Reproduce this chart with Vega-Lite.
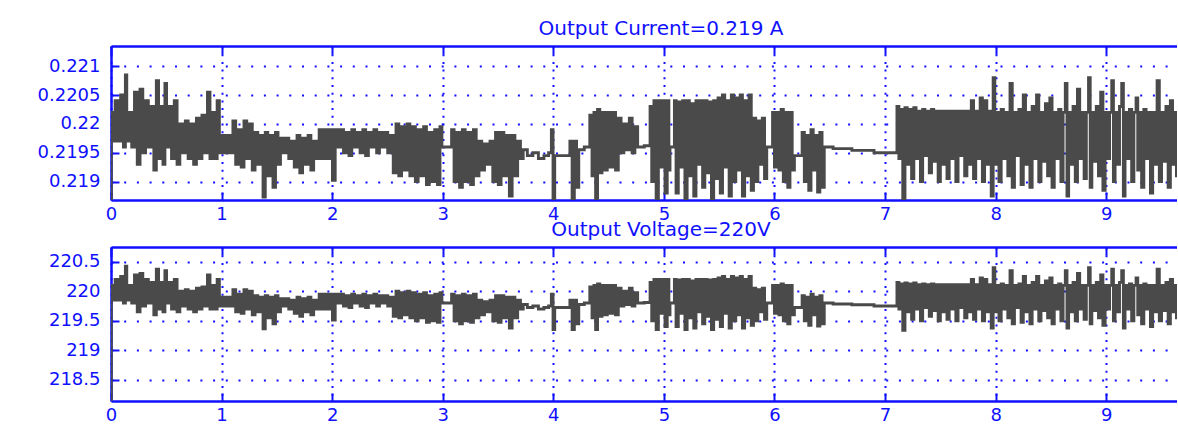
{
"$schema": "https://vega.github.io/schema/vega-lite/v6.json",
"background": "white",
"padding": {"left": 31, "top": 19, "right": 0, "bottom": 0},
"spacing": -3,
"config": {
  "font": "DejaVu Sans",
  "view": {"stroke": null},
  "axis": {"domainColor": "#1010ff", "domainWidth": 2.5, "tickColor": "#1010ff", "tickWidth": 2, "tickSize": -8, "gridColor": "#1010ff", "gridWidth": 2, "gridOpacity": 1, "labelColor": "#1010ff", "labelFont": "DejaVu Sans", "labelFontSize": 18, "labelFlush": false, "labelOverlap": false, "title": null},
  "axisX": {"gridDash": [2, 5.7], "labelPadding": 13, "minExtent": 21, "maxExtent": 21},
  "axisY": {"gridDash": [2, 10.7], "labelPadding": 19, "minExtent": 80, "maxExtent": 80},
  "title": {"font": "DejaVu Sans", "fontSize": 20, "fontWeight": "normal", "color": "#1010ff", "offset": 6, "dx": 17}
},
"datasets": {"s": [
{"t":0,"c":0.21868,"v":218.14},
{"t":0.005,"c":0.2202,"v":220.1},
{"t":0.025,"c":0.2197,"v":219.85},
{"t":0.05,"c":0.2204,"v":220.2},
{"t":0.075,"c":0.2197,"v":219.85},
{"t":0.1,"c":0.2205,"v":220.25},
{"t":0.125,"c":0.2196,"v":219.8},
{"t":0.135,"c":0.22085,"v":220.425},
{"t":0.15,"c":0.2197,"v":219.85},
{"t":0.175,"c":0.2202,"v":220.1},
{"t":0.2,"c":0.2196,"v":219.8},
{"t":0.225,"c":0.22055,"v":220.275},
{"t":0.25,"c":0.2193,"v":219.65},
{"t":0.275,"c":0.2206,"v":220.3},
{"t":0.3,"c":0.2195,"v":219.75},
{"t":0.325,"c":0.2204,"v":220.2},
{"t":0.35,"c":0.2196,"v":219.8},
{"t":0.375,"c":0.2203,"v":220.15},
{"t":0.4,"c":0.2192,"v":219.6},
{"t":0.42,"c":0.22075,"v":220.375},
{"t":0.44,"c":0.2194,"v":219.7},
{"t":0.46,"c":0.2203,"v":220.15},
{"t":0.48,"c":0.2193,"v":219.65},
{"t":0.495,"c":0.2207,"v":220.35},
{"t":0.51,"c":0.2196,"v":219.8},
{"t":0.535,"c":0.2203,"v":220.15},
{"t":0.56,"c":0.2194,"v":219.7},
{"t":0.585,"c":0.2204,"v":220.2},
{"t":0.61,"c":0.2193,"v":219.65},
{"t":0.635,"c":0.22,"v":220},
{"t":0.66,"c":0.2195,"v":219.75},
{"t":0.685,"c":0.22005,"v":220.025},
{"t":0.71,"c":0.2194,"v":219.7},
{"t":0.735,"c":0.22,"v":220},
{"t":0.76,"c":0.2193,"v":219.65},
{"t":0.785,"c":0.2201,"v":220.05},
{"t":0.81,"c":0.2194,"v":219.7},
{"t":0.835,"c":0.22015,"v":220.075},
{"t":0.86,"c":0.2195,"v":219.75},
{"t":0.885,"c":0.22055,"v":220.275},
{"t":0.905,"c":0.2194,"v":219.7},
{"t":0.93,"c":0.2202,"v":220.1},
{"t":0.95,"c":0.2194,"v":219.7},
{"t":0.97,"c":0.2204,"v":220.2},
{"t":0.99,"c":0.2195,"v":219.75},
{"t":1.015,"c":0.2198,"v":219.9},
{"t":1.04,"c":0.2195,"v":219.75},
{"t":1.065,"c":0.2198,"v":219.9},
{"t":1.09,"c":0.2195,"v":219.75},
{"t":1.115,"c":0.22005,"v":220.025},
{"t":1.14,"c":0.2193,"v":219.65},
{"t":1.165,"c":0.2199,"v":219.95},
{"t":1.19,"c":0.21925,"v":219.625},
{"t":1.215,"c":0.22005,"v":220.025},
{"t":1.24,"c":0.2194,"v":219.7},
{"t":1.265,"c":0.22,"v":220},
{"t":1.29,"c":0.2192,"v":219.6},
{"t":1.315,"c":0.21985,"v":219.925},
{"t":1.34,"c":0.2193,"v":219.65},
{"t":1.365,"c":0.2198,"v":219.9},
{"t":1.385,"c":0.21873,"v":219.365},
{"t":1.405,"c":0.21985,"v":219.925},
{"t":1.43,"c":0.2191,"v":219.55},
{"t":1.455,"c":0.2198,"v":219.9},
{"t":1.475,"c":0.2189,"v":219.45},
{"t":1.5,"c":0.21985,"v":219.925},
{"t":1.52,"c":0.2193,"v":219.65},
{"t":1.545,"c":0.21975,"v":219.875},
{"t":1.57,"c":0.2195,"v":219.75},
{"t":1.595,"c":0.21975,"v":219.875},
{"t":1.62,"c":0.2194,"v":219.7},
{"t":1.645,"c":0.2197,"v":219.85},
{"t":1.67,"c":0.21925,"v":219.625},
{"t":1.695,"c":0.2198,"v":219.9},
{"t":1.72,"c":0.21915,"v":219.575},
{"t":1.745,"c":0.21975,"v":219.875},
{"t":1.77,"c":0.2193,"v":219.65},
{"t":1.795,"c":0.2198,"v":219.9},
{"t":1.82,"c":0.2192,"v":219.6},
{"t":1.845,"c":0.2197,"v":219.85},
{"t":1.87,"c":0.2194,"v":219.7},
{"t":1.895,"c":0.2199,"v":219.95},
{"t":1.92,"c":0.2194,"v":219.7},
{"t":1.945,"c":0.2199,"v":219.95},
{"t":1.97,"c":0.2194,"v":219.7},
{"t":1.99,"c":0.2199,"v":219.95},
{"t":2.015,"c":0.21902,"v":219.51},
{"t":2.04,"c":0.2199,"v":219.95},
{"t":2.065,"c":0.2196,"v":219.8},
{"t":2.09,"c":0.2199,"v":219.95},
{"t":2.115,"c":0.2195,"v":219.75},
{"t":2.14,"c":0.21985,"v":219.925},
{"t":2.165,"c":0.21945,"v":219.725},
{"t":2.19,"c":0.2199,"v":219.95},
{"t":2.215,"c":0.2196,"v":219.8},
{"t":2.24,"c":0.21985,"v":219.925},
{"t":2.265,"c":0.2195,"v":219.75},
{"t":2.29,"c":0.2199,"v":219.95},
{"t":2.315,"c":0.21945,"v":219.725},
{"t":2.34,"c":0.21985,"v":219.925},
{"t":2.365,"c":0.2196,"v":219.8},
{"t":2.39,"c":0.2199,"v":219.95},
{"t":2.415,"c":0.2195,"v":219.75},
{"t":2.44,"c":0.21985,"v":219.925},
{"t":2.465,"c":0.2196,"v":219.8},
{"t":2.49,"c":0.21985,"v":219.925},
{"t":2.515,"c":0.2195,"v":219.75},
{"t":2.54,"c":0.2198,"v":219.9},
{"t":2.565,"c":0.21915,"v":219.575},
{"t":2.59,"c":0.22,"v":220},
{"t":2.615,"c":0.2191,"v":219.55},
{"t":2.64,"c":0.21995,"v":219.975},
{"t":2.665,"c":0.2192,"v":219.6},
{"t":2.69,"c":0.22,"v":220},
{"t":2.715,"c":0.2191,"v":219.55},
{"t":2.74,"c":0.21995,"v":219.975},
{"t":2.765,"c":0.219,"v":219.5},
{"t":2.79,"c":0.2199,"v":219.95},
{"t":2.815,"c":0.2191,"v":219.55},
{"t":2.84,"c":0.21995,"v":219.975},
{"t":2.865,"c":0.21895,"v":219.475},
{"t":2.89,"c":0.21985,"v":219.925},
{"t":2.915,"c":0.219,"v":219.5},
{"t":2.94,"c":0.2199,"v":219.95},
{"t":2.965,"c":0.21895,"v":219.475},
{"t":2.985,"c":0.21995,"v":219.975},
{"t":3.0,"c":0.2196,"v":219.8},
{"t":3.07,"c":0.2196,"v":219.8},
{"t":3.09,"c":0.2199,"v":219.95},
{"t":3.115,"c":0.219,"v":219.5},
{"t":3.14,"c":0.21985,"v":219.925},
{"t":3.165,"c":0.2189,"v":219.45},
{"t":3.19,"c":0.2199,"v":219.95},
{"t":3.215,"c":0.219,"v":219.5},
{"t":3.24,"c":0.21985,"v":219.925},
{"t":3.265,"c":0.21895,"v":219.475},
{"t":3.29,"c":0.2199,"v":219.95},
{"t":3.315,"c":0.2191,"v":219.55},
{"t":3.34,"c":0.2197,"v":219.85},
{"t":3.365,"c":0.2192,"v":219.6},
{"t":3.39,"c":0.21965,"v":219.825},
{"t":3.415,"c":0.2193,"v":219.65},
{"t":3.44,"c":0.2197,"v":219.85},
{"t":3.465,"c":0.219,"v":219.5},
{"t":3.49,"c":0.21985,"v":219.925},
{"t":3.515,"c":0.21895,"v":219.475},
{"t":3.54,"c":0.21985,"v":219.925},
{"t":3.565,"c":0.2191,"v":219.55},
{"t":3.59,"c":0.2198,"v":219.9},
{"t":3.615,"c":0.21875,"v":219.375},
{"t":3.64,"c":0.2198,"v":219.9},
{"t":3.665,"c":0.2191,"v":219.55},
{"t":3.69,"c":0.2197,"v":219.85},
{"t":3.715,"c":0.2194,"v":219.7},
{"t":3.74,"c":0.21955,"v":219.775},
{"t":3.79,"c":0.21945,"v":219.725},
{"t":3.84,"c":0.2195,"v":219.75},
{"t":3.89,"c":0.2194,"v":219.7},
{"t":3.94,"c":0.21945,"v":219.725},
{"t":3.975,"c":0.2195,"v":219.75},
{"t":3.99,"c":0.2199,"v":219.95},
{"t":4.005,"c":0.2187,"v":219.35},
{"t":4.02,"c":0.21945,"v":219.725},
{"t":4.14,"c":0.21945,"v":219.725},
{"t":4.16,"c":0.2197,"v":219.85},
{"t":4.18,"c":0.2187,"v":219.35},
{"t":4.2,"c":0.2197,"v":219.85},
{"t":4.22,"c":0.2189,"v":219.45},
{"t":4.24,"c":0.21955,"v":219.775},
{"t":4.32,"c":0.2196,"v":219.8},
{"t":4.34,"c":0.22015,"v":220.075},
{"t":4.36,"c":0.2191,"v":219.55},
{"t":4.375,"c":0.2202,"v":220.1},
{"t":4.39,"c":0.2187,"v":219.35},
{"t":4.41,"c":0.22025,"v":220.125},
{"t":4.43,"c":0.21915,"v":219.575},
{"t":4.45,"c":0.2202,"v":220.1},
{"t":4.475,"c":0.2192,"v":219.6},
{"t":4.5,"c":0.2202,"v":220.1},
{"t":4.525,"c":0.21925,"v":219.625},
{"t":4.55,"c":0.2202,"v":220.1},
{"t":4.575,"c":0.2192,"v":219.6},
{"t":4.6,"c":0.2201,"v":220.05},
{"t":4.625,"c":0.2195,"v":219.75},
{"t":4.65,"c":0.22,"v":220},
{"t":4.675,"c":0.21955,"v":219.775},
{"t":4.7,"c":0.2201,"v":220.05},
{"t":4.725,"c":0.2195,"v":219.75},
{"t":4.75,"c":0.21995,"v":219.975},
{"t":4.775,"c":0.2196,"v":219.8},
{"t":4.87,"c":0.21962,"v":219.81},
{"t":4.88,"c":0.2203,"v":220.15},
{"t":4.9,"c":0.219,"v":219.5},
{"t":4.92,"c":0.2204,"v":220.2},
{"t":4.94,"c":0.2187,"v":219.35},
{"t":4.96,"c":0.2204,"v":220.2},
{"t":4.98,"c":0.21925,"v":219.625},
{"t":5.0,"c":0.2204,"v":220.2},
{"t":5.02,"c":0.2188,"v":219.4},
{"t":5.04,"c":0.2204,"v":220.2},
{"t":5.05,"c":0.2192,"v":219.6},
{"t":5.06,"c":0.2196,"v":219.8},
{"t":5.09,"c":0.2196,"v":219.8},
{"t":5.1,"c":0.2204,"v":220.2},
{"t":5.12,"c":0.2188,"v":219.4},
{"t":5.14,"c":0.22038,"v":220.19},
{"t":5.16,"c":0.21925,"v":219.625},
{"t":5.18,"c":0.2204,"v":220.2},
{"t":5.2,"c":0.2187,"v":219.35},
{"t":5.22,"c":0.2204,"v":220.2},
{"t":5.24,"c":0.2191,"v":219.55},
{"t":5.26,"c":0.22035,"v":220.175},
{"t":5.28,"c":0.21875,"v":219.375},
{"t":5.3,"c":0.2204,"v":220.2},
{"t":5.32,"c":0.2193,"v":219.65},
{"t":5.34,"c":0.2204,"v":220.2},
{"t":5.36,"c":0.2189,"v":219.45},
{"t":5.38,"c":0.2204,"v":220.2},
{"t":5.4,"c":0.21915,"v":219.575},
{"t":5.42,"c":0.22038,"v":220.19},
{"t":5.44,"c":0.2187,"v":219.35},
{"t":5.46,"c":0.2204,"v":220.2},
{"t":5.48,"c":0.21905,"v":219.525},
{"t":5.5,"c":0.22045,"v":220.225},
{"t":5.52,"c":0.2188,"v":219.4},
{"t":5.54,"c":0.2205,"v":220.25},
{"t":5.56,"c":0.21925,"v":219.625},
{"t":5.58,"c":0.2204,"v":220.2},
{"t":5.6,"c":0.21875,"v":219.375},
{"t":5.62,"c":0.2205,"v":220.25},
{"t":5.64,"c":0.219,"v":219.5},
{"t":5.66,"c":0.22045,"v":220.225},
{"t":5.68,"c":0.2192,"v":219.6},
{"t":5.7,"c":0.2205,"v":220.25},
{"t":5.72,"c":0.21875,"v":219.375},
{"t":5.74,"c":0.2204,"v":220.2},
{"t":5.76,"c":0.2191,"v":219.55},
{"t":5.78,"c":0.2205,"v":220.25},
{"t":5.8,"c":0.21885,"v":219.425},
{"t":5.82,"c":0.2201,"v":220.05},
{"t":5.84,"c":0.219,"v":219.5},
{"t":5.86,"c":0.22005,"v":220.025},
{"t":5.88,"c":0.2193,"v":219.65},
{"t":5.9,"c":0.2201,"v":220.05},
{"t":5.92,"c":0.21905,"v":219.525},
{"t":5.94,"c":0.2196,"v":219.8},
{"t":5.975,"c":0.2196,"v":219.8},
{"t":5.99,"c":0.2202,"v":220.1},
{"t":6.01,"c":0.21925,"v":219.625},
{"t":6.03,"c":0.2202,"v":220.1},
{"t":6.05,"c":0.2192,"v":219.6},
{"t":6.07,"c":0.22025,"v":220.125},
{"t":6.09,"c":0.219,"v":219.5},
{"t":6.11,"c":0.2202,"v":220.1},
{"t":6.13,"c":0.2189,"v":219.45},
{"t":6.15,"c":0.2202,"v":220.1},
{"t":6.17,"c":0.2192,"v":219.6},
{"t":6.19,"c":0.21945,"v":219.725},
{"t":6.24,"c":0.21945,"v":219.725},
{"t":6.26,"c":0.21985,"v":219.925},
{"t":6.28,"c":0.219,"v":219.5},
{"t":6.3,"c":0.2198,"v":219.9},
{"t":6.32,"c":0.21885,"v":219.425},
{"t":6.34,"c":0.2199,"v":219.95},
{"t":6.36,"c":0.2192,"v":219.6},
{"t":6.38,"c":0.2198,"v":219.9},
{"t":6.4,"c":0.21882,"v":219.41},
{"t":6.42,"c":0.21985,"v":219.925},
{"t":6.44,"c":0.2189,"v":219.45},
{"t":6.46,"c":0.2196,"v":219.8},
{"t":6.6,"c":0.21957,"v":219.785},
{"t":6.8,"c":0.21954,"v":219.77},
{"t":7.0,"c":0.2195,"v":219.75},
{"t":7.1,"c":0.2195,"v":219.75},
{"t":7.115,"c":0.2203,"v":220.15},
{"t":7.135,"c":0.2194,"v":219.7},
{"t":7.15,"c":0.22025,"v":220.125},
{"t":7.17,"c":0.21868,"v":219.34},
{"t":7.19,"c":0.22028,"v":220.14},
{"t":7.21,"c":0.2193,"v":219.65},
{"t":7.23,"c":0.22025,"v":220.125},
{"t":7.25,"c":0.21905,"v":219.525},
{"t":7.27,"c":0.22028,"v":220.14},
{"t":7.29,"c":0.2194,"v":219.7},
{"t":7.31,"c":0.22022,"v":220.11},
{"t":7.33,"c":0.219,"v":219.5},
{"t":7.35,"c":0.22025,"v":220.125},
{"t":7.37,"c":0.21945,"v":219.725},
{"t":7.39,"c":0.22022,"v":220.11},
{"t":7.41,"c":0.21915,"v":219.575},
{"t":7.43,"c":0.22025,"v":220.125},
{"t":7.45,"c":0.21935,"v":219.675},
{"t":7.47,"c":0.22022,"v":220.11},
{"t":7.49,"c":0.219,"v":219.5},
{"t":7.51,"c":0.22022,"v":220.11},
{"t":7.53,"c":0.2193,"v":219.65},
{"t":7.55,"c":0.22022,"v":220.11},
{"t":7.57,"c":0.21905,"v":219.525},
{"t":7.59,"c":0.22022,"v":220.11},
{"t":7.61,"c":0.2194,"v":219.7},
{"t":7.63,"c":0.22022,"v":220.11},
{"t":7.65,"c":0.219,"v":219.5},
{"t":7.67,"c":0.22022,"v":220.11},
{"t":7.69,"c":0.21945,"v":219.725},
{"t":7.71,"c":0.22022,"v":220.11},
{"t":7.73,"c":0.2191,"v":219.55},
{"t":7.75,"c":0.22022,"v":220.11},
{"t":7.77,"c":0.2193,"v":219.65},
{"t":7.79,"c":0.2204,"v":220.2},
{"t":7.81,"c":0.21905,"v":219.525},
{"t":7.83,"c":0.22022,"v":220.11},
{"t":7.85,"c":0.2194,"v":219.7},
{"t":7.87,"c":0.22045,"v":220.225},
{"t":7.89,"c":0.219,"v":219.5},
{"t":7.91,"c":0.2204,"v":220.2},
{"t":7.93,"c":0.2193,"v":219.65},
{"t":7.95,"c":0.22022,"v":220.11},
{"t":7.97,"c":0.21875,"v":219.375},
{"t":7.985,"c":0.2208,"v":220.4},
{"t":8.0,"c":0.2193,"v":219.65},
{"t":8.02,"c":0.2202,"v":220.1},
{"t":8.04,"c":0.219,"v":219.5},
{"t":8.06,"c":0.22025,"v":220.125},
{"t":8.08,"c":0.2194,"v":219.7},
{"t":8.1,"c":0.2202,"v":220.1},
{"t":8.12,"c":0.2191,"v":219.55},
{"t":8.14,"c":0.2207,"v":220.35},
{"t":8.16,"c":0.2189,"v":219.45},
{"t":8.18,"c":0.2202,"v":220.1},
{"t":8.2,"c":0.21945,"v":219.725},
{"t":8.22,"c":0.22025,"v":220.125},
{"t":8.24,"c":0.21895,"v":219.475},
{"t":8.26,"c":0.2205,"v":220.25},
{"t":8.28,"c":0.2193,"v":219.65},
{"t":8.3,"c":0.2202,"v":220.1},
{"t":8.32,"c":0.2189,"v":219.45},
{"t":8.34,"c":0.2203,"v":220.15},
{"t":8.36,"c":0.2194,"v":219.7},
{"t":8.38,"c":0.2205,"v":220.25},
{"t":8.4,"c":0.219,"v":219.5},
{"t":8.42,"c":0.2202,"v":220.1},
{"t":8.44,"c":0.21935,"v":219.675},
{"t":8.46,"c":0.22035,"v":220.175},
{"t":8.48,"c":0.2191,"v":219.55},
{"t":8.5,"c":0.22045,"v":220.225},
{"t":8.52,"c":0.2189,"v":219.45},
{"t":8.54,"c":0.2202,"v":220.1},
{"t":8.56,"c":0.2194,"v":219.7},
{"t":8.58,"c":0.22025,"v":220.125},
{"t":8.6,"c":0.219,"v":219.5},
{"t":8.62,"c":0.2202,"v":220.1},
{"t":8.64,"c":0.2207,"v":220.35},
{"t":8.65,"c":0.21875,"v":219.375},
{"t":8.67,"c":0.2202,"v":220.1},
{"t":8.69,"c":0.2193,"v":219.65},
{"t":8.71,"c":0.2203,"v":220.15},
{"t":8.73,"c":0.219,"v":219.5},
{"t":8.75,"c":0.2206,"v":220.3},
{"t":8.77,"c":0.2194,"v":219.7},
{"t":8.79,"c":0.2202,"v":220.1},
{"t":8.81,"c":0.21905,"v":219.525},
{"t":8.83,"c":0.2202,"v":220.1},
{"t":8.85,"c":0.2208,"v":220.4},
{"t":8.86,"c":0.2189,"v":219.45},
{"t":8.88,"c":0.2202,"v":220.1},
{"t":8.9,"c":0.21935,"v":219.675},
{"t":8.92,"c":0.2203,"v":220.15},
{"t":8.94,"c":0.2191,"v":219.55},
{"t":8.96,"c":0.22055,"v":220.275},
{"t":8.98,"c":0.21885,"v":219.425},
{"t":9.0,"c":0.2202,"v":220.1},
{"t":9.02,"c":0.2194,"v":219.7},
{"t":9.04,"c":0.2202,"v":220.1},
{"t":9.06,"c":0.22075,"v":220.375},
{"t":9.07,"c":0.219,"v":219.5},
{"t":9.09,"c":0.2202,"v":220.1},
{"t":9.11,"c":0.2193,"v":219.65},
{"t":9.13,"c":0.2203,"v":220.15},
{"t":9.15,"c":0.2207,"v":220.35},
{"t":9.16,"c":0.21875,"v":219.375},
{"t":9.18,"c":0.2202,"v":220.1},
{"t":9.2,"c":0.2194,"v":219.7},
{"t":9.22,"c":0.22025,"v":220.125},
{"t":9.24,"c":0.219,"v":219.5},
{"t":9.26,"c":0.2202,"v":220.1},
{"t":9.28,"c":0.22045,"v":220.225},
{"t":9.29,"c":0.2192,"v":219.6},
{"t":9.31,"c":0.2202,"v":220.1},
{"t":9.33,"c":0.2189,"v":219.45},
{"t":9.35,"c":0.22025,"v":220.125},
{"t":9.37,"c":0.2194,"v":219.7},
{"t":9.39,"c":0.2202,"v":220.1},
{"t":9.41,"c":0.2188,"v":219.4},
{"t":9.43,"c":0.2202,"v":220.1},
{"t":9.45,"c":0.2193,"v":219.65},
{"t":9.47,"c":0.22075,"v":220.375},
{"t":9.49,"c":0.219,"v":219.5},
{"t":9.51,"c":0.2202,"v":220.1},
{"t":9.53,"c":0.21935,"v":219.675},
{"t":9.55,"c":0.2203,"v":220.15},
{"t":9.57,"c":0.2189,"v":219.45},
{"t":9.59,"c":0.2204,"v":220.2},
{"t":9.61,"c":0.2193,"v":219.65},
{"t":9.63,"c":0.2202,"v":220.1},
{"t":9.64,"c":0.2191,"v":219.55}
]},
"vconcat": [
  {
    "title": {"text": "Output Current=0.219 A"},
    "width": 1066,
    "height": 154,
    "data": {"name": "s"},
    "encoding": {
      "y": {"field": "c", "type": "quantitative", "scale": {"domain": [0.21868, 0.22135], "nice": false, "zero": false}, "axis": {"values": [0.219, 0.2195, 0.22, 0.2205, 0.221], "format": "~g"}}
    },
    "layer": [
      {"mark": {"type": "line", "color": "#4a4a4a", "strokeWidth": 2.9, "interpolate": "step", "clip": true},
       "encoding": {"x": {"field": "t", "type": "quantitative", "scale": {"domain": [0, 9.64], "nice": false, "zero": false}, "axis": {"orient": "bottom", "values": [0,1,2,3,4,5,6,7,8,9]}}}},
      {"mark": {"type": "line", "opacity": 0, "clip": true},
       "encoding": {"x": {"field": "t", "type": "quantitative", "axis": {"orient": "top", "values": [0,1,2,3,4,5,6,7,8,9], "labels": false, "grid": false, "minExtent": 0, "maxExtent": 1}}}}
    ],
    "resolve": {"axis": {"x": "independent"}}
  },
  {
    "title": {"text": "Output Voltage=220V"},
    "width": 1066,
    "height": 154,
    "data": {"name": "s"},
    "encoding": {
      "y": {"field": "v", "type": "quantitative", "scale": {"domain": [218.14, 220.75], "nice": false, "zero": false}, "axis": {"values": [218.5, 219, 219.5, 220, 220.5], "format": "~g"}}
    },
    "layer": [
      {"mark": {"type": "line", "color": "#4a4a4a", "strokeWidth": 2.9, "interpolate": "step", "clip": true},
       "encoding": {"x": {"field": "t", "type": "quantitative", "scale": {"domain": [0, 9.64], "nice": false, "zero": false}, "axis": {"orient": "bottom", "values": [0,1,2,3,4,5,6,7,8,9]}}}},
      {"mark": {"type": "line", "opacity": 0, "clip": true},
       "encoding": {"x": {"field": "t", "type": "quantitative", "axis": {"orient": "top", "values": [0,1,2,3,4,5,6,7,8,9], "labels": false, "grid": false, "minExtent": 0, "maxExtent": 1}}}}
    ],
    "resolve": {"axis": {"x": "independent"}}
  }
]
}
